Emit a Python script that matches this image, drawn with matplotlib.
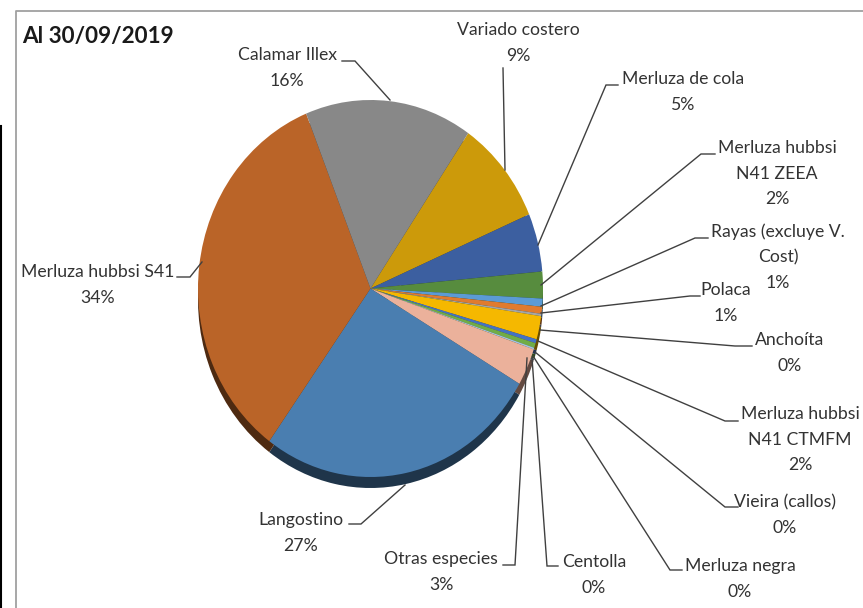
import numpy as np
import matplotlib
matplotlib.use("Agg")
import matplotlib.pyplot as plt
from matplotlib.colors import to_rgb

plt.rcParams['font.family'] = ['Lato', 'DejaVu Sans']

title = "Al 30/09/2019"
categories = ["Variado costero", "Merluza de cola", "Merluza hubbsi\nN41 ZEEA", "Rayas (excluye V.\nCost)",
              "Polaca", "Anchoíta", "Merluza hubbsi\nN41 CTMFM", "Vieira (callos)", "Merluza negra",
              "Centolla", "Otras especies", "Langostino", "Merluza hubbsi S41", "Calamar Illex"]
values = [9.0, 5.0, 2.3, 0.7, 0.6, 0.2, 2.0, 0.35, 0.4, 0.15, 3.2, 26.6, 34.0, 15.7]
percent_labels = ["9%", "5%", "2%", "1%", "1%", "0%", "2%", "0%", "0%", "0%", "3%", "27%", "34%", "16%"]
colors = ["#CC9A0A", "#3C5FA0", "#578C3E", "#5B9BD5", "#E07B2F", "#A5A5A5", "#F5B800", "#4472C4",
          "#70AD47", "#9DC3E6", "#EBB19B", "#4A7EB0", "#BA6428", "#888888"]

W, H = 863, 608
fig = plt.figure(figsize=(W / 100, H / 100), dpi=100)

# Pie axes: a stretched ellipse, with a darker copy underneath for the rim
cx, cy, rx, ry, rim = 370.5, 288.5, 172.5, 188.5, 11
pad = 1.12
ax = fig.add_axes([(cx - rx * pad) / W, 1 - (cy + ry * pad) / H, 2 * rx * pad / W, 2 * ry * pad / H])
dark = [tuple(c * 0.42 for c in to_rgb(col)) for col in colors]
start = 90 - 34.5
ax.pie(values, colors=dark, startangle=start, counterclock=False, center=(0, -rim / ry))
ax.pie(values, colors=colors, startangle=start, counterclock=False, center=(0, 0))
ax.set_aspect('auto')
ax.set_xlim(-pad, pad)
ax.set_ylim(-pad, pad)

# Overlay in pixel coordinates for frame, leaders and labels
ov = fig.add_axes([0, 0, 1, 1], zorder=5)
ov.set_xlim(0, W)
ov.set_ylim(H, 0)
ov.axis('off')
ov.plot([15.5, 15.5, W], [H, 10.5, 10.5], color="#A0A0A0", lw=1.3)
ov.plot([0.5, 0.5], [H, 126], color="black", lw=1.5)

label_xy = [(518, 30), (683, 79), (777, 148), (778, 232), (726, 290), (790, 340), (800, 414),
            (785, 502), (740, 566), (594, 562), (441, 559), (301, 520), (98, 272), (287, 55)]
leaders = [
    [(503, 68), (505, 170)],
    [(618, 85), (606, 85), (538, 245)],
    [(715, 154), (701, 154), (541, 285)],
    [(708, 238), (695, 238), (541, 306)],
    [(700, 296), (690, 296), (541, 313)],
    [(752, 346), (735, 346), (540, 330)],
    [(738, 421), (725, 421), (538, 341)],
    [(738, 507), (725, 507), (535, 352)],
    [(682, 570), (670, 570), (533, 356)],
    [(558, 566), (547, 566), (532, 358)],
    [(503, 565), (515, 565), (527, 358)],
    [(349, 524), (361, 524), (405, 485)],
    [(177, 277), (190, 277), (202, 262)],
    [(342, 61), (355, 61), (390, 100)],
]
line_h = 25.7
for name, pct, (x, y), pts in zip(categories, percent_labels, label_xy, leaders):
    ov.plot(*zip(*pts), color="#404040", lw=1.0, solid_joinstyle='miter')
    for i, line in enumerate(name.split("\n") + [pct]):
        ov.text(x, y + i * line_h, line, ha='center', va='center', fontsize=12.7, color="#333333")

ov.text(22, 36, title, ha='left', va='center', fontsize=16.2, fontweight='bold', color="#1a1a1a")

fig.savefig("out.png", dpi=100)
